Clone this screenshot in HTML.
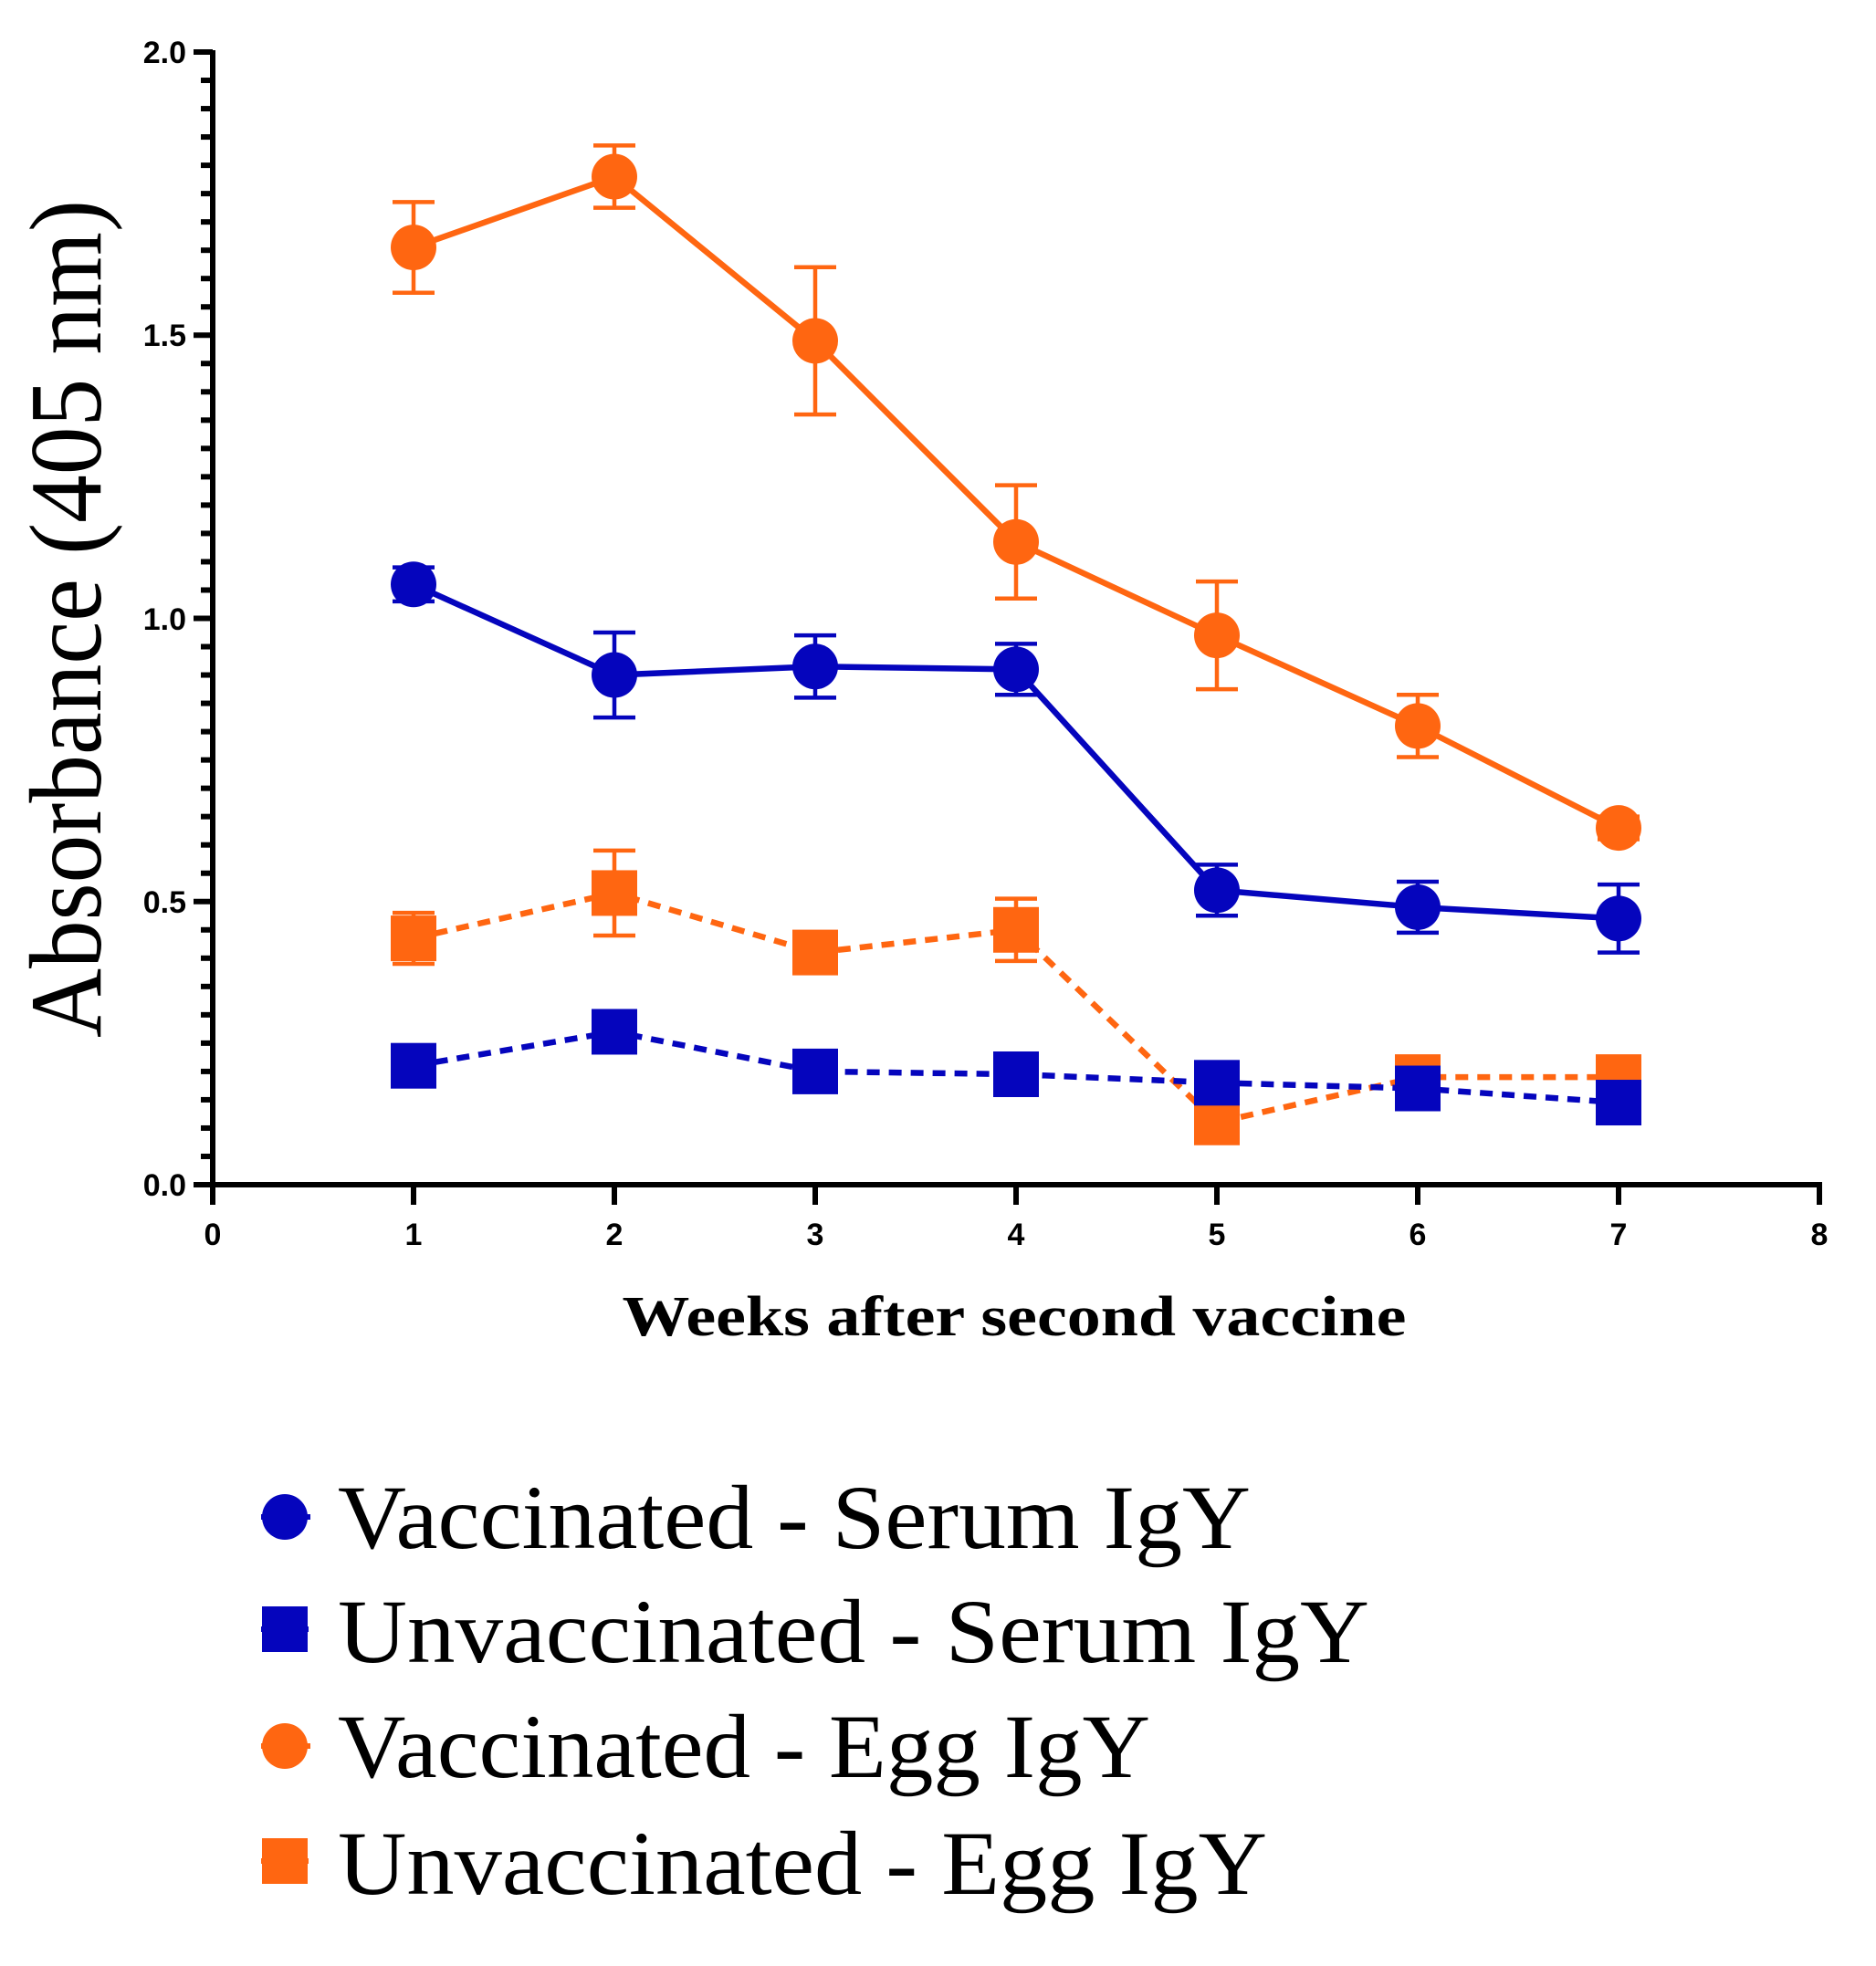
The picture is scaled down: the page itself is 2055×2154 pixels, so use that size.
<!DOCTYPE html>
<html><head><meta charset="utf-8"><style>
html,body{margin:0;padding:0;background:#fff;}
svg{display:block;}
.tk{font-family:"Liberation Sans",Arial,sans-serif;font-weight:bold;font-size:34px;fill:#000;}
</style></head><body>
<svg id="s" width="2055" height="2154" viewBox="0 0 2055 2154" xmlns="http://www.w3.org/2000/svg">
<rect width="2055" height="2154" fill="#fff"/>
<g id="axes"></g>
<g id="data"></g>
<g class="tk" text-anchor="end">
<text x="204" y="1310">0.0</text>
<text x="204" y="1000">0.5</text>
<text x="204" y="690">1.0</text>
<text x="204" y="379">1.5</text>
<text x="204" y="69">2.0</text>
</g>
<g class="tk" text-anchor="middle">
<text x="233" y="1364">0</text><text x="453" y="1364">1</text><text x="673" y="1364">2</text><text x="893" y="1364">3</text><text x="1113" y="1364">4</text><text x="1333" y="1364">5</text><text x="1553" y="1364">6</text><text x="1773" y="1364">7</text><text x="1993" y="1364">8</text>
</g>
<text x="1111" y="1463" text-anchor="middle" font-family="Liberation Serif,serif" font-weight="bold" font-size="62" textLength="859" lengthAdjust="spacingAndGlyphs">Weeks after second vaccine</text>
<text transform="translate(110,678) rotate(-90)" text-anchor="middle" font-family="Liberation Serif,serif" font-size="112" textLength="918" lengthAdjust="spacingAndGlyphs">Absorbance (405 nm)</text>
<g font-family="Liberation Serif,serif" font-size="100">
<line x1="286" y1="1662" x2="340" y2="1662" stroke="#0505bd" stroke-width="6"/>
<circle cx="312" cy="1662" r="25" fill="#0505bd"/>
<text x="370" y="1696" textLength="1000" lengthAdjust="spacingAndGlyphs">Vaccinated - Serum IgY</text>
<line x1="286" y1="1785" x2="340" y2="1785" stroke="#0505bd" stroke-width="6" stroke-dasharray="12 8"/>
<rect x="287" y="1760" width="50" height="50" fill="#0505bd"/>
<text x="370" y="1821" textLength="1130" lengthAdjust="spacingAndGlyphs">Unvaccinated - Serum IgY</text>
<line x1="286" y1="1913" x2="340" y2="1913" stroke="#ff6611" stroke-width="6"/>
<circle cx="312" cy="1913" r="25" fill="#ff6611"/>
<text x="370" y="1947" textLength="890" lengthAdjust="spacingAndGlyphs">Vaccinated - Egg IgY</text>
<line x1="286" y1="2039" x2="340" y2="2039" stroke="#ff6611" stroke-width="6" stroke-dasharray="12 8"/>
<rect x="287" y="2014" width="50" height="50" fill="#ff6611"/>
<text x="370" y="2075" textLength="1018" lengthAdjust="spacingAndGlyphs">Unvaccinated - Egg IgY</text>
</g>
</svg>
<script>
var NS="http://www.w3.org/2000/svg";
function el(p,t,a){var e=document.createElementNS(NS,t);for(var k in a)e.setAttribute(k,a[k]);p.appendChild(e);return e;}
function X(w){return 233+220*w;} function Y(v){return 1298-620.5*v;}
var ax=document.getElementById('axes');
el(ax,'line',{x1:233,y1:55,x2:233,y2:1320,stroke:'#000','stroke-width':6});
el(ax,'line',{x1:212,y1:1298,x2:1996,y2:1298,stroke:'#000','stroke-width':6});
for(var i=0;i<=40;i++){var y=Y(i*0.05);var maj=i%10==0;el(ax,'line',{x1:maj?212:220,y1:y,x2:233,y2:y,stroke:'#000','stroke-width':6});}
for(var w=0;w<=8;w++){el(ax,'line',{x1:X(w),y1:1298,x2:X(w),y2:1320,stroke:'#000','stroke-width':6});}
var B='#0505bd',O='#ff6611';
var series=[
 {c:O,d:1,sq:1,v:[.435,.515,.41,.45,.11,.19,.19],e:[.045,.075,0,.055,0,0,0]},
 {c:B,d:1,sq:1,v:[.21,.27,.20,.195,.18,.17,.145],e:[0,0,0,0,0,0,0]},
 {c:O,d:0,sq:0,v:[1.655,1.78,1.49,1.135,.97,.81,.63],e:[.08,.055,.13,.10,.095,.055,.02]},
 {c:B,d:0,sq:0,v:[1.06,.90,.915,.91,.52,.49,.47],e:[.03,.075,.055,.045,.045,.045,.06]}
];
var g=document.getElementById('data');
series.forEach(function(s){
 var pts=s.v.map(function(v,i){return X(i+1)+','+Y(v);}).join(' ');
 var a={points:pts,fill:'none',stroke:s.c,'stroke-width':6.5};
 if(s.d)a['stroke-dasharray']='14 10';
 el(g,'polyline',a);
 s.v.forEach(function(v,i){var x=X(i+1),e=s.e[i];
  if(e>0){var y1=Y(v+e),y2=Y(v-e);
   el(g,'line',{x1:x,y1:y1,x2:x,y2:y2,stroke:s.c,'stroke-width':4.5});
   el(g,'line',{x1:x-23,y1:y1,x2:x+23,y2:y1,stroke:s.c,'stroke-width':4.5});
   el(g,'line',{x1:x-23,y1:y2,x2:x+23,y2:y2,stroke:s.c,'stroke-width':4.5});}
  if(s.sq)el(g,'rect',{x:x-25,y:Y(v)-25,width:50,height:50,fill:s.c});
  else el(g,'circle',{cx:x,cy:Y(v),r:25,fill:s.c});
 });
});
</script>
</body></html>
